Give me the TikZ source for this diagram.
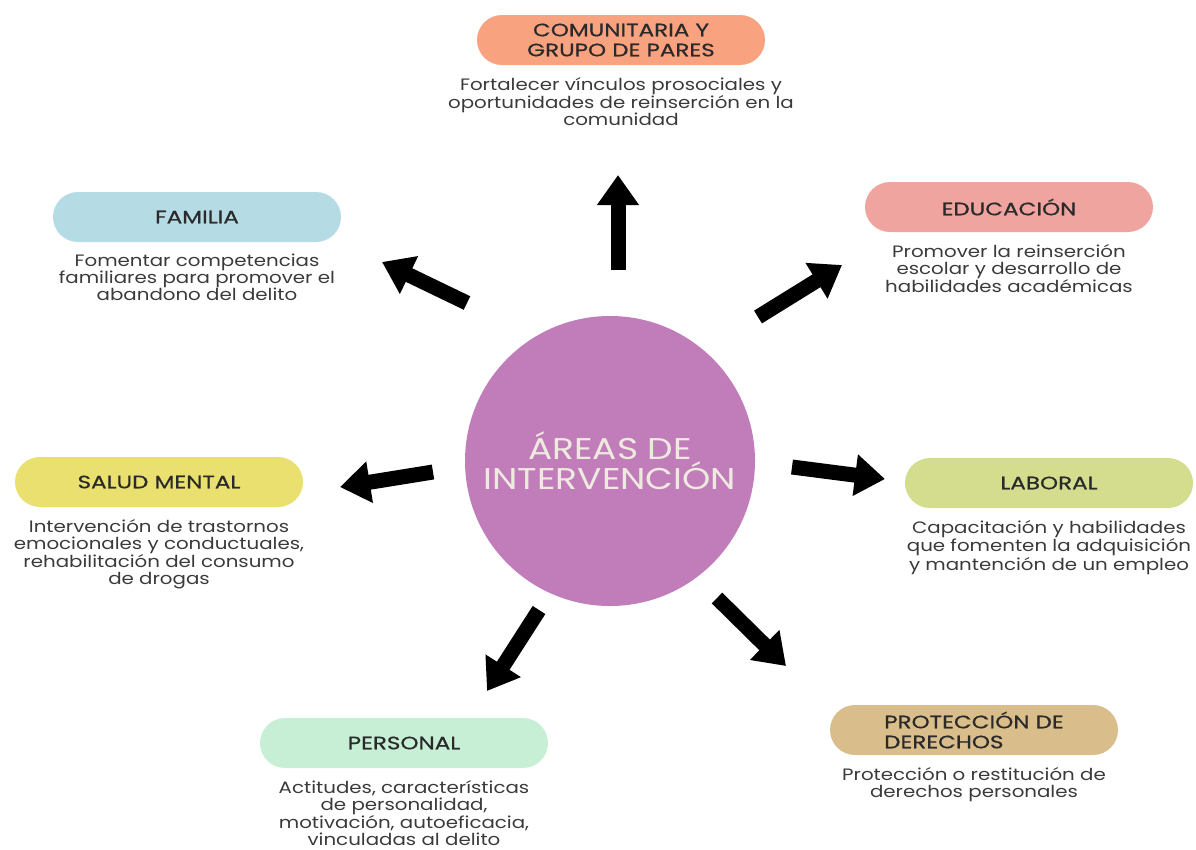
\documentclass[tikz,border=0pt]{standalone}
\usepackage{fontspec}
\setmainfont{Poppins}
\newfontfamily\titlefont[FakeStretch=1.28,FakeBold=0.6]{Poppins}
\newfontfamily\descfont[FakeStretch=1.2]{Poppins}
\newfontfamily\hubfont[FakeStretch=1.2]{Poppins}
\usetikzlibrary{arrows.meta, positioning}

\definecolor{hubfill}{HTML}{C17DBA}
\definecolor{hubtext}{HTML}{EFEADF}
\definecolor{titletext}{HTML}{2A2A2A}
\definecolor{desctext}{HTML}{3A3A3A}
\definecolor{comfill}{HTML}{F9A27F}
\definecolor{famfill}{HTML}{B5DBE4}
\definecolor{edufill}{HTML}{EFA4A0}
\definecolor{salfill}{HTML}{E9E06F}
\definecolor{labfill}{HTML}{D4DD8D}
\definecolor{perfill}{HTML}{C6EFD5}
\definecolor{profill}{HTML}{D9BE8C}

\begin{document}
\begin{tikzpicture}[x=1pt,y=-1pt,
  pill/.style={rounded corners=25pt,minimum width=288pt,minimum height=50pt,
    text=titletext,align=center,font=\titlefont\fontsize{18}{20}\selectfont},
  desc/.style={text=desctext,align=center,inner sep=0pt,
    font=\descfont\fontsize{16.5}{17}\selectfont},
  bigarrow/.style={line width=15pt,-{Triangle[length=30pt,width=40pt]}}]
  \useasboundingbox (0,0) rectangle (1196,849);

  \node [circle,fill=hubfill,minimum size=290pt,text=hubtext,align=center,
    font=\hubfont\fontsize{30}{30}\selectfont] (hub) at (610,461) {ÁREAS DE\\INTERVENCIÓN};

  % areas
  \node [pill,fill=comfill] (com) at (621,40) {COMUNITARIA Y\\GRUPO DE PARES};
  \node [pill,fill=famfill] (fam) at (197,217) {FAMILIA};
  \node [pill,fill=edufill] (edu) at (1009,207) {EDUCACIÓN};
  \node [pill,fill=salfill] (sal) at (159,482) {SALUD MENTAL};
  \node [pill,fill=labfill] (lab) at (1049,483) {LABORAL};
  \node [pill,fill=perfill] (per) at (404,743) {PERSONAL};
  \node [pill,fill=profill,align=left] (pro) at (974,730) {PROTECCIÓN DE\\DERECHOS};

  \node [desc,below=12pt of com] (comd) {Fortalecer vínculos prosociales y\\oportunidades de reinserción en la\\comunidad};
  \node [desc,below=12pt of fam] (famd) {Fomentar competencias\\familiares para promover el\\abandono del delito};
  \node [desc,below=12pt of edu] (edud) {Promover la reinserción\\escolar y desarrollo de\\habilidades académicas};
  \node [desc,below=12pt of sal] (sald) {Intervención de trastornos\\emocionales y conductuales,\\rehabilitación del consumo\\de drogas};
  \node [desc,below=12pt of lab] (labd) {Capacitación y habilidades\\que fomenten la adquisición\\y mantención de un empleo};
  \node [desc,below=12pt of per] (perd) {Actitudes, características\\de personalidad,\\motivación, autoeficacia,\\vinculadas al delito};
  \node [desc,below=12pt of pro] (prod) {Protección o restitución de\\derechos personales};

  % arrows
  \coordinate (t1) at (618,270); \coordinate (h1) at (618,175);
  \coordinate (t2) at (467,303); \coordinate (h2) at (382,262);
  \coordinate (t3) at (758,317); \coordinate (h3) at (842,265);
  \coordinate (t4) at (433,472); \coordinate (h4) at (340,487);
  \coordinate (t5) at (792,467); \coordinate (h5) at (885,479);
  \coordinate (t6) at (539,610); \coordinate (h6) at (487,691);
  \coordinate (t7) at (717,598); \coordinate (h7) at (786,666);
  \foreach \i in {1,...,7}
    \draw [bigarrow] (t\i) -- (h\i);
\end{tikzpicture}
\end{document}
